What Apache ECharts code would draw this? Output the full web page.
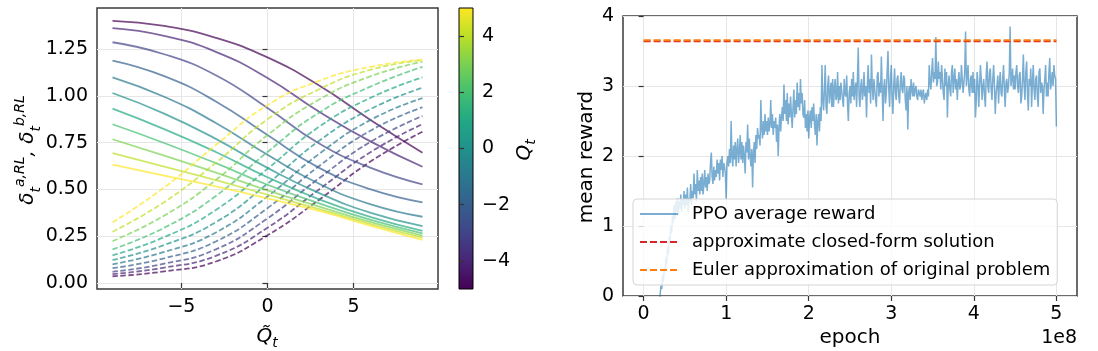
<!DOCTYPE html>
<html>
<head>
<meta charset="utf-8">
<script src="https://cdn.jsdelivr.net/npm/echarts@6.0.0/dist/echarts.min.js"></script>
<style>
  html, body { margin: 0; padding: 0; background: #fff; }
  #chart { width: 1098px; height: 351px; }
</style>
</head>
<body>
<div id="chart"></div>
<script>
'use strict';

// ---- left panel: optimal quotes vs. inventory, one curve per Q_t ----
var qTilde = [-9, -6, -3, 0, 3, 6, 9];
var qValues = [-5, -4, -3, -2, -1, 0, 1, 2, 3, 4, 5];

// solid lines (delta a), one row per Q value
var deltaA = [
    [1.400, 1.373, 1.310, 1.205, 1.055, 0.870, 0.696],
    [1.361, 1.320, 1.235, 1.095, 0.915, 0.755, 0.621],
    [1.286, 1.222, 1.110, 0.935, 0.745, 0.615, 0.527],
    [1.188, 1.105, 0.970, 0.790, 0.615, 0.500, 0.431],
    [1.099, 0.995, 0.855, 0.685, 0.530, 0.420, 0.354],
    [1.015, 0.905, 0.770, 0.615, 0.480, 0.375, 0.304],
    [0.931, 0.822, 0.700, 0.565, 0.447, 0.352, 0.279],
    [0.848, 0.748, 0.640, 0.525, 0.425, 0.337, 0.265],
    [0.768, 0.680, 0.590, 0.495, 0.408, 0.325, 0.253],
    [0.694, 0.622, 0.550, 0.472, 0.395, 0.315, 0.242],
    [0.632, 0.573, 0.516, 0.452, 0.385, 0.305, 0.230]
];

// dashed lines (delta b), one row per Q value
var deltaB = [
    [0.036, 0.062, 0.115, 0.255, 0.445, 0.650, 0.808],
    [0.048, 0.082, 0.145, 0.295, 0.500, 0.700, 0.849],
    [0.060, 0.103, 0.180, 0.345, 0.560, 0.755, 0.892],
    [0.079, 0.132, 0.222, 0.400, 0.625, 0.815, 0.939],
    [0.100, 0.166, 0.270, 0.462, 0.690, 0.872, 0.988],
    [0.123, 0.203, 0.325, 0.530, 0.760, 0.930, 1.043],
    [0.148, 0.245, 0.390, 0.610, 0.835, 0.990, 1.099],
    [0.180, 0.295, 0.465, 0.700, 0.910, 1.050, 1.155],
    [0.224, 0.360, 0.550, 0.790, 0.980, 1.105, 1.182],
    [0.274, 0.432, 0.642, 0.875, 1.035, 1.140, 1.191],
    [0.324, 0.510, 0.737, 0.950, 1.080, 1.155, 1.193]
];

var viridis = ['#440154', '#482475', '#414487', '#355f8d', '#2a788e', '#21918c',
    '#22a884', '#44bf70', '#7ad151', '#bddf26', '#fde725'];

var leftXTicks = [-5, 0, 5];
var leftYTicks = [0, 0.25, 0.5, 0.75, 1, 1.25];
var colorbarTicks = [-4, -2, 0, 2, 4];

// ---- right panel: PPO training curve, one value every 1e6 epochs ----
var epochStep = 1e6;
var ppoReward = [
    -1.4, -1.35, -1.3, -1.2, -1.25, -1.1, -1.05, -1.0, -0.95, -0.9,
    -0.8, -0.75, -0.7, -0.6, -0.55, -0.45, -0.4, -0.3, -0.2, -0.1,
    0.02, 0.15, 0.1, 0.3, 0.2, 0.4, 0.35, 0.55, 0.45, 0.7,
    0.6, 0.85, 0.75, 1.0, 0.9, 1.15, 1.05, 1.3, 1.1, 1.35,
    1.2, 1.4, 1.15, 1.35, 1.25, 1.45, 1.2, 1.38, 1.3, 1.5,
    1.25, 1.45, 1.3, 1.55, 1.2, 1.4, 1.35, 1.6, 1.3, 1.5,
    1.4, 1.75, 1.45, 1.6, 1.35, 1.8, 1.5, 1.65, 1.45, 1.7,
    1.5, 1.75, 1.45, 1.6, 1.8, 1.55, 1.7, 1.5, 1.75, 1.6,
    1.65, 1.9, 2.05, 1.7, 1.6, 1.85, 1.65, 1.8, 1.7, 1.95,
    1.75, 1.9, 1.65, 1.95, 1.8, 2.0, 1.7, 1.9, 1.85, 1.75,
    1.38, 1.9, 2.0, 1.85, 2.1, 1.9, 2.5, 2.0, 1.85, 2.15,
    1.95, 2.2, 1.85, 2.1, 2.25, 1.9, 2.05, 2.3, 1.95, 2.2,
    1.9, 2.15, 2.0, 1.75, 2.2, 2.05, 2.45, 1.95, 2.25, 2.0,
    1.85, 2.1, 1.55, 2.05, 2.2, 1.9, 2.3, 2.1, 2.4, 2.25,
    2.3, 2.15, 2.8, 2.4, 2.25, 2.5, 2.3, 2.6, 2.35, 2.5,
    2.3, 2.55, 2.35, 2.45, 2.8, 2.4, 2.6, 2.3, 2.5, 2.4,
    2.55, 2.2, 2.45, 2.0, 2.4, 2.6, 2.35, 2.55, 2.7, 2.5,
    3.02, 2.6, 2.8, 2.5, 2.9, 2.45, 2.75, 2.55, 2.85, 2.6,
    2.4, 2.7, 2.95, 2.55, 2.8, 2.6, 3.05, 2.7, 2.9, 2.65,
    3.1, 2.75, 2.9, 2.6, 2.55, 2.8, 2.4, 2.6, 2.35, 2.65,
    2.25, 2.55, 2.65, 2.4, 2.7, 2.5, 2.75, 2.45, 2.3, 2.6,
    2.15, 2.5, 2.6, 2.35, 2.7, 2.5, 3.3, 2.8, 2.65, 2.95,
    3.3, 2.7, 2.6, 3.0, 3.15, 2.75, 2.9, 3.05, 2.7, 3.1,
    2.7, 2.95, 3.1, 2.8, 2.85, 3.2, 2.75, 3.0, 2.8, 3.05,
    3.05, 2.8, 2.7, 3.1, 2.9, 2.85, 3.15, 2.75, 2.5, 2.9,
    3.0, 2.75, 3.1, 2.85, 3.2, 2.8, 2.95, 3.05, 2.7, 3.1,
    3.55, 2.85, 2.7, 3.0, 3.1, 2.8, 2.9, 3.2, 2.85, 3.0,
    2.55, 3.0, 3.3, 2.9, 3.1, 2.75, 3.45, 3.0, 2.8, 3.1,
    3.1, 2.8, 2.7, 3.15, 3.2, 2.85, 3.05, 2.9, 3.42, 2.95,
    2.5, 3.0, 3.1, 2.75, 2.9, 3.2, 3.5, 2.95, 2.7, 3.1,
    3.3, 2.85, 2.6, 3.0, 3.25, 2.9, 2.8, 3.1, 3.15, 2.85,
    2.75, 3.05, 3.2, 2.95, 2.9, 3.15, 3.1, 2.8, 2.65, 3.0,
    2.38, 2.9, 3.0, 2.8, 3.1, 2.95, 2.85, 3.05, 2.85, 2.95,
    3.0, 2.85, 2.8, 2.95, 2.9, 2.85, 2.95, 2.8, 2.9, 2.95,
    2.75, 2.85, 2.9, 2.8, 2.95, 2.85, 3.3, 3.05, 2.95, 3.2,
    3.4, 3.05, 3.2, 3.1, 3.7, 3.0, 3.05, 3.35, 3.1, 3.2,
    2.95, 3.3, 3.1, 2.9, 2.8, 3.25, 3.0, 3.2, 2.55, 3.0,
    3.15, 2.95, 2.85, 3.2, 3.3, 2.9, 3.1, 3.25, 2.95, 3.1,
    2.8, 3.05, 3.2, 2.95, 3.0, 3.3, 3.1, 2.9, 3.05, 3.2,
    3.78, 3.0, 3.15, 3.3, 2.95, 2.85, 3.1, 3.15, 2.9, 3.2,
    2.9, 3.1, 2.55, 2.8, 3.2, 3.05, 2.7, 3.0, 3.3, 3.1,
    2.8, 3.0, 3.1, 2.85, 2.7, 3.15, 3.35, 3.0, 2.9, 3.2,
    3.25, 2.95, 2.8, 3.1, 3.3, 3.0, 2.6, 2.9, 3.0, 3.15,
    2.75, 3.05, 3.2, 2.9, 2.85, 3.1, 3.3, 2.95, 2.7, 3.05,
    3.1, 2.9, 3.0, 3.2, 3.85, 3.0, 3.1, 3.25, 2.95, 3.15,
    2.95, 3.2, 3.3, 3.0, 2.9, 3.15, 3.2, 2.75, 2.85, 3.1,
    3.45, 3.0, 2.8, 3.2, 3.35, 2.9, 2.65, 3.1, 3.0, 3.25,
    2.7, 3.05, 3.3, 2.95, 2.8, 3.1, 3.15, 2.85, 2.7, 3.2,
    3.25, 2.9, 3.05, 3.0, 2.6, 2.95, 3.1, 3.3, 2.85, 3.05,
    2.85, 3.2, 3.4, 2.95, 3.05, 3.2, 3.0, 3.3, 3.15, 3.1,
    2.42
];
var closedForm = 3.64;
var eulerApprox = 3.655;
var benchmarkSpan = [0, 5e8];
var epochTicks = [0, 1e8, 2e8, 3e8, 4e8, 5e8];

var FONT = 'DejaVu Sans';
var TICK = { color: '#000', fontFamily: FONT, fontSize: 19 };

function minusSign(v) {
    return String(v).replace('-', '\u2212');
}

function buildLeftSeries() {
    var series = [];
    for (var i = 0; i < qValues.length; i++) {
        var color = viridis[i];
        series.push({
            type: 'line', xAxisIndex: 0, yAxisIndex: 0,
            data: qTilde.map(function(x, j) { return [x, deltaA[i][j]]; }),
            smooth: true, symbol: 'none', silent: true,
            lineStyle: { color: color, width: 1.8, opacity: 0.7 }
        });
        series.push({
            type: 'line', xAxisIndex: 0, yAxisIndex: 0,
            data: qTilde.map(function(x, j) { return [x, deltaB[i][j]]; }),
            smooth: true, symbol: 'none', silent: true,
            lineStyle: { color: color, width: 1.8, opacity: 0.7, type: [5.5, 2.5] }
        });
    }
    return series;
}

function buildRightSeries() {
    return [
        {
            name: 'PPO average reward',
            type: 'line', xAxisIndex: 2, yAxisIndex: 2,
            data: ppoReward.map(function(v, k) { return [k * epochStep, v]; }),
            symbol: 'none', silent: true,
            itemStyle: { color: 'rgba(31,119,180,0.6)' },
            lineStyle: { color: 'rgba(31,119,180,0.6)', width: 1.5 }
        },
        {
            name: 'approximate closed-form solution',
            type: 'line', xAxisIndex: 2, yAxisIndex: 2,
            data: benchmarkSpan.map(function(e) { return [e, closedForm]; }),
            symbol: 'none', silent: true,
            itemStyle: { color: '#d62728' },
            lineStyle: { color: '#d62728', width: 2, type: [7, 3] }
        },
        {
            name: 'Euler approximation of original problem',
            type: 'line', xAxisIndex: 2, yAxisIndex: 2,
            data: benchmarkSpan.map(function(e) { return [e, eulerApprox]; }),
            symbol: 'none', silent: true,
            itemStyle: { color: '#ff7f0e' },
            lineStyle: { color: '#ff7f0e', width: 2, type: [7, 3] }
        }
    ];
}

var gridLine = { show: true, lineStyle: { color: '#e6e6e6', width: 1 } };
var tickOut = { show: true, inside: false, length: 5, lineStyle: { color: '#333', width: 1.2 } };

var option = {
    animation: false,
    backgroundColor: '#fff',
    grid: [
        { left: 97, top: 8, width: 341, height: 281, show: true, borderColor: '#3a3a3a', borderWidth: 1.5, backgroundColor: 'transparent' },
        {
            left: 459, top: 8, width: 14, height: 281, show: true, borderColor: '#000', borderWidth: 1,
            backgroundColor: {
                type: 'linear', x: 0, y: 1, x2: 0, y2: 0,
                colorStops: viridis.map(function(c, k) { return { offset: k / (viridis.length - 1), color: c }; })
            }
        },
        { left: 623, top: 16, width: 454, height: 280, show: true, borderColor: '#3a3a3a', borderWidth: 1.5, backgroundColor: 'transparent' }
    ],
    xAxis: [
        {
            gridIndex: 0, type: 'value', min: -9.9, max: 9.9,
            axisLine: { show: false },
            axisTick: Object.assign({ customValues: leftXTicks }, tickOut),
            axisLabel: Object.assign({ customValues: leftXTicks, margin: 9, formatter: minusSign }, TICK),
            splitLine: gridLine
        },
        { gridIndex: 1, type: 'value', min: 0, max: 1, show: false },
        {
            gridIndex: 2, type: 'value', min: -0.25e8, max: 5.25e8,
            axisLine: { show: false },
            axisTick: Object.assign({ customValues: epochTicks }, tickOut),
            axisLabel: Object.assign({ customValues: epochTicks, margin: 9, formatter: function(v) { return String(Math.round(v / 1e8)); } }, TICK),
            splitLine: gridLine
        }
    ],
    yAxis: [
        {
            gridIndex: 0, type: 'value', min: -0.032, max: 1.469,
            axisLine: { show: false },
            axisTick: Object.assign({ customValues: leftYTicks }, tickOut),
            axisLabel: Object.assign({ customValues: leftYTicks, margin: 9, formatter: function(v) { return v.toFixed(2); } }, TICK),
            splitLine: gridLine
        },
        {
            gridIndex: 1, type: 'value', min: -5, max: 5, position: 'right',
            axisLine: { show: false },
            axisTick: Object.assign({ customValues: colorbarTicks }, tickOut),
            axisLabel: Object.assign({ customValues: colorbarTicks, margin: 9, formatter: minusSign }, TICK),
            splitLine: { show: false }
        },
        {
            gridIndex: 2, type: 'value', min: 0, max: 4, interval: 1,
            axisLine: { show: false },
            axisTick: tickOut,
            axisLabel: Object.assign({ margin: 9 }, TICK),
            splitLine: gridLine
        }
    ],
    legend: {
        data: ['PPO average reward', 'approximate closed-form solution', 'Euler approximation of original problem'],
        orient: 'vertical', left: 633, top: 199,
        padding: [5, 7, 5, 6], itemGap: 8, itemWidth: 38, itemHeight: 14,
        backgroundColor: 'rgba(255,255,255,0.8)', borderColor: '#d5d5d5', borderWidth: 1, borderRadius: 4,
        selectedMode: false,
        itemStyle: { opacity: 0 },
        textStyle: { color: '#000', fontFamily: FONT, fontSize: 18, lineHeight: 20, padding: [0, 0, 0, 9] }
    },
    graphic: [
        {
            type: 'text', x: 28, y: 150, rotation: Math.PI / 2,
            style: {
                text: '{d|δ}{sub|t}{sup|a,RL}{d|, δ}{sub|t}{sup|b,RL}',
                align: 'center', verticalAlign: 'middle', fill: '#000',
                rich: {
                    d: { fontFamily: FONT, fontSize: 20, fontStyle: 'italic', lineHeight: 30 },
                    sub: { fontFamily: FONT, fontSize: 14, fontStyle: 'italic', verticalAlign: 'bottom', lineHeight: 30 },
                    sup: { fontFamily: FONT, fontSize: 14, fontStyle: 'italic', verticalAlign: 'top', lineHeight: 30 }
                }
            }
        },
        {
            type: 'text', x: 267, y: 337,
            style: {
                text: '{q|Q\u0303}{sub|t}', align: 'center', verticalAlign: 'middle', fill: '#000',
                rich: {
                    q: { fontFamily: FONT, fontSize: 20, fontStyle: 'italic', lineHeight: 26 },
                    sub: { fontFamily: FONT, fontSize: 14, fontStyle: 'italic', verticalAlign: 'bottom', lineHeight: 26 }
                }
            }
        },
        {
            type: 'text', x: 525, y: 150, rotation: Math.PI / 2,
            style: {
                text: '{q|Q}{sub|t}', align: 'center', verticalAlign: 'middle', fill: '#000',
                rich: {
                    q: { fontFamily: FONT, fontSize: 20, fontStyle: 'italic', lineHeight: 26 },
                    sub: { fontFamily: FONT, fontSize: 14, fontStyle: 'italic', verticalAlign: 'bottom', lineHeight: 26 }
                }
            }
        },
        {
            type: 'text', x: 587, y: 157, rotation: Math.PI / 2,
            style: { text: 'mean reward', align: 'center', verticalAlign: 'middle', fill: '#000', font: '20px "DejaVu Sans"' }
        },
        {
            type: 'text', x: 850, y: 338,
            style: { text: 'epoch', align: 'center', verticalAlign: 'middle', fill: '#000', font: '20px "DejaVu Sans"' }
        },
        {
            type: 'text', x: 1077, y: 338,
            style: { text: '1e8', align: 'right', verticalAlign: 'middle', fill: '#000', font: '19px "DejaVu Sans"' }
        }
    ],
    series: buildLeftSeries().concat(buildRightSeries())
};

var chart = echarts.init(document.getElementById('chart'), null, { renderer: 'canvas' });
chart.setOption(option);
</script>
</body>
</html>
